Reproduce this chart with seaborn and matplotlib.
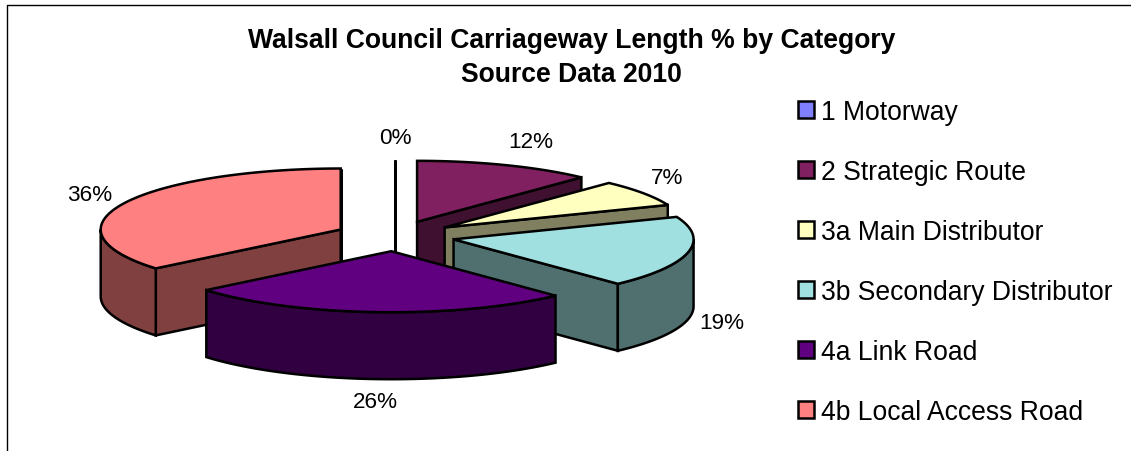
import numpy as np
import matplotlib
matplotlib.use('Agg')
import matplotlib.pyplot as plt
from matplotlib.patches import Patch
import seaborn as sns

categories = ['1 Motorway', '2 Strategic Route', '3a Main Distributor',
              '3b Secondary Distributor', '4a Link Road', '4b Local Access Road']
shares = [0, 12, 7, 19, 26, 36]
top_colors = ['#8080FF', '#802060', '#FFFFC0', '#A0E0E0', '#600080', '#FF8080']

sns.set_theme(style='white')
plt.rcParams['font.family'] = ['Liberation Sans', 'DejaVu Sans']

# pie geometry in pixels of the figure
CX, CY = 395, 237
RX, RY = 240, 61
DEPTH = 67
EXPLODE = 0.25
EDGE = dict(edgecolor='black', linewidth=1.8, joinstyle='miter')


def ring(t):
    return RX * np.sin(t), -RY * np.cos(t)


def draw_slice(ax, start, stop, color, zorder):
    t1, t2 = np.radians(start), np.radians(stop)
    mid = (t1 + t2) / 2
    ox, oy = ring(mid)
    ax0, ay0 = CX + EXPLODE * ox, CY + EXPLODE * oy
    dark = tuple(c * 0.5 for c in matplotlib.colors.to_rgb(color))

    # cut faces that look towards the viewer
    for t, visible in ((t1, np.sin(t1) < -1e-6), (t2, np.sin(t2) > -1e-6 or stop == 360)):
        if visible:
            dx, dy = ring(t)
            pts = [(ax0, ay0), (ax0 + dx, ay0 + dy), (ax0 + dx, ay0 + dy + DEPTH), (ax0, ay0 + DEPTH)]
            ax.fill(*zip(*pts), facecolor=dark, zorder=zorder, **EDGE)

    # outer wall, front half only
    a, b = max(t1, np.pi / 2), min(t2, 3 * np.pi / 2)
    if b > a:
        ts = np.linspace(a, b, 80)
        dx, dy = ring(ts)
        xs = np.r_[ax0 + dx, (ax0 + dx)[::-1]]
        ys = np.r_[ay0 + dy, (ay0 + dy + DEPTH)[::-1]]
        ax.fill(xs, ys, facecolor=dark, zorder=zorder, **EDGE)

    # top
    ts = np.linspace(t1, t2, 120)
    dx, dy = ring(ts)
    ax.fill(np.r_[ax0, ax0 + dx], np.r_[ay0, ay0 + dy], facecolor=color, zorder=zorder, **EDGE)


fig = plt.figure(figsize=(11.31, 4.52), dpi=100)
ax = fig.add_axes([0, 0, 1, 1])
ax.set_xlim(0, 1131)
ax.set_ylim(452, 0)
ax.axis('off')

# chart frame, open at the bottom and right
ax.plot([7, 7, 1131], [452, 6, 6], color='black', lw=1.0, zorder=1)

edges = np.r_[0, np.cumsum(shares)] * 3.6
# back slices first, the link road sits in front of everything
order = [0, 1, 2, 3, 5, 4]
for z, i in enumerate(order):
    draw_slice(ax, edges[i], edges[i + 1], top_colors[i], 2 + z)

label_xy = [(395, 139), (531, 143), (667, 179), (722, 324), (375, 403), (90, 196)]
for (x, y), s in zip(label_xy, shares):
    ax.text(x, y, f'{s}%', ha='center', va='center', fontsize=16.2, color='black', zorder=20)

ax.text(571.5, 41, 'Walsall Council Carriageway Length % by Category', ha='center', va='center',
        fontsize=19.1, fontweight='bold', color='black')
ax.text(571.5, 75, 'Source Data 2010', ha='center', va='center',
        fontsize=19.1, fontweight='bold', color='black')

handles = [Patch(facecolor=c, edgecolor='black', linewidth=1.8) for c in top_colors]
ax.legend(handles, categories, loc='upper left', bbox_to_anchor=(798 / 1131, 1 - 100 / 452),
          frameon=False, fontsize=19.1, labelcolor='black', handlelength=0.62, handleheight=0.62,
          handletextpad=0.25, labelspacing=1.28, borderpad=0, borderaxespad=0)

fig.savefig('out.png', dpi=100)
